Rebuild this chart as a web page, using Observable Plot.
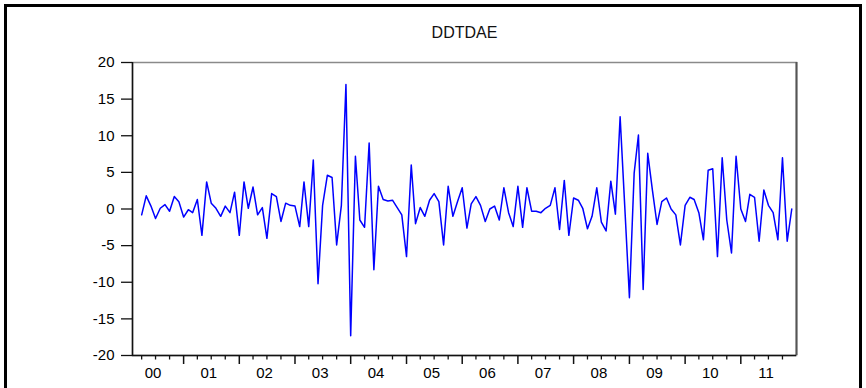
<!DOCTYPE html>
<html><head><meta charset="utf-8">
<script src="https://cdn.jsdelivr.net/npm/d3@7"></script>
<script src="https://cdn.jsdelivr.net/npm/@observablehq/plot@0.6"></script>
<style>
html,body{margin:0;padding:0;background:#fff;}
#wrap{position:relative;width:866px;height:388px;overflow:hidden;background:#fff;}
#border{position:absolute;left:4px;top:4px;width:858px;height:420px;border:3px solid #000;box-sizing:border-box;pointer-events:none;}
#chart{position:absolute;left:0;top:0;}
</style></head><body>
<div id="wrap"><div id="chart"></div><div id="border"></div></div>
<script>
const title = "DDTDAE";
const startYear = 2000, startMonthIndex = 3; // first observation: 2000 April
const values = [
 -0.8, 1.8, 0.4, -1.3, 0.1, 0.6, -0.3, 1.7, 1.0, -1.1, -0.1, -0.5,
  1.3, -3.6, 3.7, 0.8, 0.1, -1.0, 0.4, -0.5, 2.3, -3.6, 3.7, 0.1,
  3.0, -0.8, 0.2, -4.0, 2.1, 1.7, -1.7, 0.8, 0.5, 0.4, -2.4, 3.7,
 -2.4, 6.7, -10.2, 0.5, 4.6, 4.3, -4.9, 0.5, 17.0, -17.3, 7.2, -1.5,
 -2.5, 9.0, -8.3, 3.1, 1.3, 1.1, 1.2, 0.2, -0.8, -6.5, 6.0, -2.0,
  0.2, -1.0, 1.2, 2.1, 1.0, -4.9, 3.1, -1.0, 1.0, 2.9, -2.6, 0.7,
  1.7, 0.5, -1.7, 0.0, 0.4, -1.5, 2.9, -0.5, -2.4, 3.1, -2.5, 2.9,
 -0.3, -0.3, -0.5, 0.1, 0.5, 2.9, -2.8, 3.9, -3.6, 1.5, 1.2, 0.1,
 -2.7, -1.0, 2.9, -1.8, -3.0, 3.8, -0.7, 12.6, 0.5, -12.1, 4.9, 10.1,
 -11.0, 7.6, 2.5, -2.1, 1.0, 1.5, 0.0, -0.8, -4.9, 0.5, 1.6, 1.3,
 -0.5, -4.2, 5.3, 5.5, -6.5, 7.0, -1.5, -6.0, 7.2, 0.0, -1.7, 2.0,
  1.6, -4.4, 2.6, 0.5, -0.5, -4.2, 7.0, -4.4, 0.0
];
const yTicks = [-20, -15, -10, -5, 0, 5, 10, 15, 20];
const yearLabels = ["00","01","02","03","04","05","06","07","08","09","10","11"];

const data = values.map((v, i) => ({date: new Date(Date.UTC(startYear, startMonthIndex + i, 1)), value: v}));
const x0 = new Date(Date.UTC(2000, 1, 1)), x1 = new Date(Date.UTC(2012, 0, 1));
const quarters = d3.utcMonth.every(3).range(new Date(Date.UTC(2000, 3, 1)), x1).filter(d => d.getUTCMonth() !== 0);
const years = d3.utcYear.range(new Date(Date.UTC(2001, 0, 1)), x1);
const mids = yearLabels.map((s, i) => new Date(Date.UTC(2000 + i, 5, 15)));

const font = "'Liberation Sans', Arial, sans-serif";
const chart = Plot.plot({
  width: 866, height: 388,
  marginLeft: 132, marginRight: 70, marginTop: 62, marginBottom: 33,
  style: {fontFamily: font, fontSize: "15px", color: "#000", background: "transparent"},
  x: {type: "utc", domain: [x0, x1], label: null},
  y: {domain: [-20, 20], label: null},
  marks: [
    Plot.frame({stroke: "#8a8a8a", strokeWidth: 1.5}),
    Plot.ruleX([x1], {stroke: "#555", strokeWidth: 2}),
    Plot.ruleX([x0], {stroke: "#111", strokeWidth: 1.5}),
    Plot.ruleY([-20], {stroke: "#111", strokeWidth: 1.5}),
    Plot.axisY({ticks: yTicks, label: null, tickSize: 11, tickPadding: 7, fontSize: 15, tickFormat: d => String(d), stroke: "#111", strokeWidth: 1.3}),
    Plot.axisX({ticks: quarters, label: null, tickSize: 4.5, tickFormat: () => "", stroke: "#111", strokeWidth: 1.3}),
    Plot.axisX({ticks: years, label: null, tickSize: 9, tickFormat: () => "", stroke: "#111", strokeWidth: 1.5}),
    Plot.axisX({ticks: mids, label: null, tickSize: 0, tickPadding: 12, fontSize: 15, tickFormat: d => yearLabels[d.getUTCFullYear() - 2000]}),
    Plot.lineY(data, {x: "date", y: "value", stroke: "#0000ff", strokeWidth: 1.5}),
    Plot.text([title], {frameAnchor: "top", lineAnchor: "middle", dy: -30, fontSize: 16, fill: "#111"})
  ]
});
document.getElementById("chart").appendChild(chart);
</script>
</body></html>
